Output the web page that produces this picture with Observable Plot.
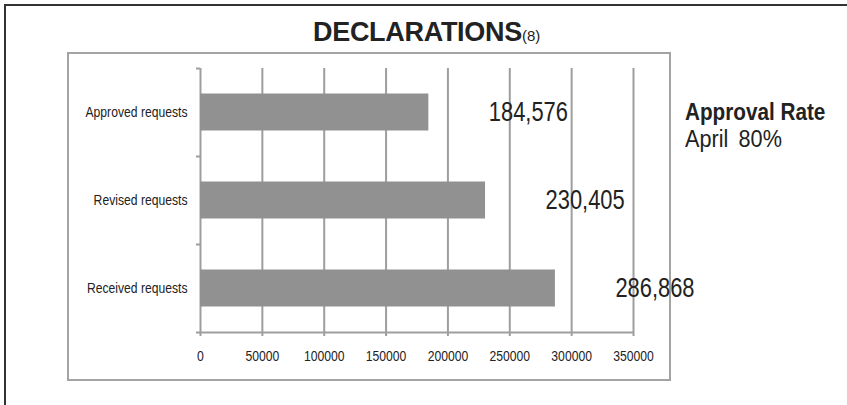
<!DOCTYPE html>
<html>
<head>
<meta charset="utf-8">
<script src="https://cdn.jsdelivr.net/npm/d3@7"></script>
<script src="https://cdn.jsdelivr.net/npm/@observablehq/plot@0.6"></script>
<style>
  html, body { margin: 0; padding: 0; background: #fff; }
  #wrap { position: relative; width: 847px; height: 405px; overflow: hidden; background: #fff; }
  #outer { position: absolute; left: 4px; top: 4px; width: 900px; height: 500px;
           border-left: 2px solid #333; border-top: 2px solid #333; }
  #inner { position: absolute; left: 67px; top: 52px; width: 604px; height: 329px; box-sizing: border-box;
           border: 2px solid #a3a3a3; }
  #chart { position: absolute; left: 0; top: 0; }
  .t { position: absolute; white-space: pre; color: #222; line-height: 1; }
  #title { left: 313px; top: 17px; font: bold 27px "Liberation Sans", Arial, sans-serif; letter-spacing: -0.3px; }
  #title span { font-weight: normal; font-size: 15px; letter-spacing: 0; }
  #rate1 { left: 685px; top: 99px; font: bold 23px/26px "Liberation Sans", Arial, sans-serif;
           transform: scaleX(0.9); transform-origin: 0 0; }
  #rate2 { left: 685px; top: 126px; font: 23px/26px "Liberation Sans", Arial, sans-serif;
           transform: scaleX(0.94); transform-origin: 0 0; }
  #rate2 span { margin-left: 11px; }
</style>
</head>
<body>
<div id="wrap">
  <div id="outer"></div>
  <div id="inner"></div>
  <div id="chart"></div>
  <div class="t" id="title">DECLARATIONS<span>(8)</span></div>
  <div class="t" id="rate1">Approval Rate</div>
  <div class="t" id="rate2">April<span>80%</span></div>
</div>
<script>
const categories = ["Approved requests", "Revised requests", "Received requests"];
const values = [184576, 230405, 286868];
const xTicks = [0, 50000, 100000, 150000, 200000, 250000, 300000, 350000];

const data = categories.map((c, i) => ({category: c, value: values[i]}));
const font = '"Liberation Sans", Arial, sans-serif';
const grid = "#9e9e9e";

const chart = Plot.plot({
  width: 847,
  height: 405,
  marginLeft: 200,
  marginRight: 214,
  marginTop: 68,
  marginBottom: 73,
  style: {fontFamily: font, background: "transparent", color: "#222"},
  x: {domain: [0, 350000], label: null},
  y: {domain: categories, padding: 0, label: null},
  marks: [
    Plot.ruleX(xTicks, {x: d => d, stroke: grid, strokeWidth: 2, insetBottom: -4}),
    Plot.ruleY(categories, {y: d => d, x1: 0, x2: 0, insetLeft: -4, dy: -44, stroke: grid, strokeWidth: 2}),
    Plot.ruleY(categories.slice(-1), {y: d => d, x1: 0, x2: 350000, insetLeft: -4, dy: 44, stroke: grid, strokeWidth: 2}),
    Plot.barX(data, {x: "value", y: "category", fill: "#919191", insetTop: 25.5, insetBottom: 25.5}),
    Plot.text(data, {x: "value", y: "category", text: d => d3.format(",")(d.value), dx: 60,
                     textAnchor: "start", fontSize: 27, fill: "#222"}),
    Plot.axisX(xTicks, {tickSize: 0, tickPadding: 18, tickFormat: d => String(d), fontSize: 15, label: null}),
    Plot.axisY({tickSize: 0, tickPadding: 13, fontSize: 15, label: null})
  ]
});
document.getElementById("chart").appendChild(chart);

// condense the glyphs to mimic the narrow typeface of the original
chart.querySelectorAll("text").forEach(el => {
  const len = el.getComputedTextLength();
  if (len > 0) {
    el.setAttribute("textLength", (len * 0.81).toFixed(1));
    el.setAttribute("lengthAdjust", "spacingAndGlyphs");
  }
});
</script>
</body>
</html>
